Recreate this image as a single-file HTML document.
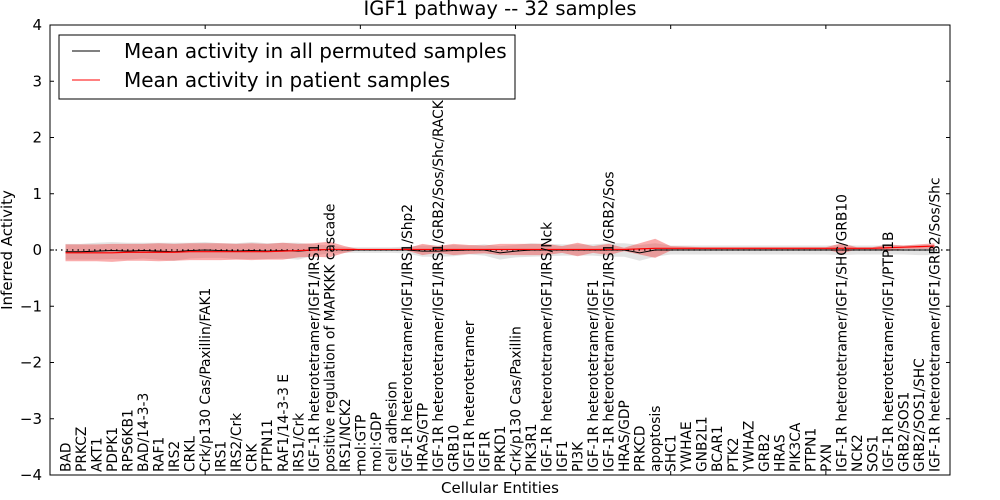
<!DOCTYPE html>
<html><head><meta charset="utf-8"><style>
body{margin:0;background:#fff}
svg text{font-family:"DejaVu Sans","Liberation Sans",sans-serif}
</style></head><body>
<svg id="chart" width="1000" height="500" xmlns="http://www.w3.org/2000/svg" style="position:absolute;left:0;top:0">
<rect width="1000" height="500" fill="#fff"/>
<g id="bands"></g>
<g id="lines"></g>
<g id="xlabels"></g>
<g id="axes"></g>
</svg>
<script>
const categories=["BAD","PRKCZ","AKT1","PDPK1","RPS6KB1","BAD/14-3-3","RAF1","IRS2","CRKL","Crk/p130 Cas/Paxillin/FAK1","IRS1","IRS2/Crk","CRK","PTPN11","RAF1/14-3-3 E","IRS1/Crk","IGF-1R heterotetramer/IGF1/IRS1","positive regulation of MAPKKK cascade","IRS1/NCK2","mol:GTP","mol:GDP","cell adhesion","IGF-1R heterotetramer/IGF1/IRS1/Shp2","HRAS/GTP","IGF-1R heterotetramer/IGF1/IRS1/GRB2/Sos/Shc/RACK","GRB10","IGF1R heterotetramer","IGF1R","PRKD1","Crk/p130 Cas/Paxillin","PIK3R1","IGF-1R heterotetramer/IGF1/IRS/Nck","IGF1","PI3K","IGF-1R heterotetramer/IGF1","IGF-1R heterotetramer/IGF1/IRS1/GRB2/Sos","HRAS/GDP","PRKCD","apoptosis","SHC1","YWHAE","GNB2L1","BCAR1","PTK2","YWHAZ","GRB2","HRAS","PIK3CA","PTPN1","PXN","IGF-1R heterotetramer/IGF1/SHC/GRB10","NCK2","SOS1","IGF-1R heterotetramer/IGF1/PTP1B","GRB2/SOS1","GRB2/SOS1/SHC","IGF-1R heterotetramer/IGF1/GRB2/Sos/Shc"];
const permMean=[-0.03,-0.03,-0.02,-0.01,-0.02,-0.01,-0.02,-0.03,-0.01,0.0,-0.01,-0.02,-0.01,-0.02,-0.01,-0.02,0.0,0.01,0.0,0.0,0.0,0.0,0.0,-0.02,-0.02,-0.01,0.0,0.0,-0.05,-0.02,0.0,0.0,0.0,0.0,0.0,0.0,0.0,-0.05,0.0,0.0,0.0,0.0,0.0,0.0,0.0,0.0,0.0,0.0,0.0,0.0,0.0,0.0,0.0,0.0,0.0,0.0,0.0];
const permSd=[0.14,0.14,0.15,0.15,0.15,0.14,0.15,0.16,0.14,0.14,0.13,0.14,0.15,0.14,0.14,0.15,0.1,0.07,0.05,0.05,0.05,0.05,0.06,0.1,0.1,0.1,0.08,0.1,0.12,0.11,0.12,0.11,0.1,0.1,0.1,0.12,0.12,0.14,0.12,0.08,0.08,0.08,0.08,0.08,0.08,0.08,0.08,0.08,0.08,0.08,0.09,0.08,0.08,0.08,0.08,0.09,0.09];
const patMean=[-0.05,-0.05,-0.05,-0.05,-0.04,-0.04,-0.04,-0.04,-0.03,-0.03,-0.03,-0.03,-0.03,-0.03,-0.02,-0.01,0.0,0.01,0.01,0.01,0.01,0.01,0.01,0.01,0.01,0.01,0.01,0.01,0.01,0.01,0.01,0.01,0.01,0.01,0.01,0.01,0.01,0.02,0.03,0.03,0.03,0.03,0.03,0.03,0.03,0.03,0.03,0.03,0.03,0.03,0.03,0.03,0.03,0.04,0.05,0.06,0.07];
const patSd=[0.15,0.15,0.15,0.16,0.15,0.15,0.16,0.15,0.15,0.15,0.15,0.14,0.15,0.14,0.15,0.12,0.12,0.14,0.06,0.0,0.0,0.0,0.02,0.1,0.06,0.1,0.08,0.07,0.1,0.1,0.1,0.1,0.06,0.12,0.06,0.1,0.03,0.1,0.17,0.04,0.03,0.02,0.02,0.02,0.02,0.02,0.02,0.02,0.02,0.02,0.09,0.02,0.02,0.06,0.03,0.04,0.05];
const yTicks=[-4,-3,-2,-1,0,1,2,3,4];
const xTicks=[10,20,30,40,50];

const L=50,R=950,T=25,B=475,XMIN=0,XMAX=58,YMIN=-4,YMAX=4;
const sx=v=>L+(v-XMIN)/(XMAX-XMIN)*(R-L);
const sy=v=>B-(v-YMIN)/(YMAX-YMIN)*(B-T);
const NS="http://www.w3.org/2000/svg";
function mk(tag,attrs,parent){const e=document.createElementNS(NS,tag);for(const k in attrs)e.setAttribute(k,attrs[k]);parent.appendChild(e);return e;}
const bands=document.getElementById('bands'),lines=document.getElementById('lines'),xl=document.getElementById('xlabels'),ax=document.getElementById('axes');
function bandPath(m,s){let up=m.map((v,i)=>sx(i+1)+','+sy(v+s[i]));let dn=m.map((v,i)=>sx(i+1)+','+sy(v-s[i])).reverse();return 'M'+up.join('L')+'L'+dn.join('L')+'Z';}
function linePath(m){return 'M'+m.map((v,i)=>sx(i+1)+','+sy(v)).join('L');}
let e;
e=mk('path',{d:bandPath(permMean,permSd),fill:'#c8c8c8','fill-opacity':'0.5',stroke:'none'},bands);


e=mk('path',{d:bandPath(patMean,patSd),fill:'#f03030','fill-opacity':'0.4',stroke:'none'},bands);


e=mk('line',{x1:L,x2:R,y1:sy(0),y2:sy(0),stroke:'#000','stroke-width':1.2,'stroke-dasharray':'1.5,4'},lines);


e=mk('path',{d:linePath(permMean),fill:'none',stroke:'#000','stroke-width':1},lines);


e=mk('path',{d:linePath(patMean),fill:'none',stroke:'#f00','stroke-width':1.2},lines);


categories.forEach((c,i)=>{const x=sx(i+1)+5;const t=mk('text',{x:x,y:472,'font-size':'13.8',transform:`rotate(-90 ${x} 472)`},xl);t.textContent=c;

});
e=mk('rect',{x:L,y:T,width:R-L,height:B-T,fill:'none',stroke:'#000','stroke-width':1},ax);


yTicks.forEach(v=>{const y=sy(v);mk('line',{x1:L,x2:L+4,y1:y,y2:y,stroke:'#000'},ax);mk('line',{x1:R-4,x2:R,y1:y,y2:y,stroke:'#000'},ax);
const t=mk('text',{x:L-8,y:y+5,'font-size':'15','text-anchor':'end'},ax);t.textContent=(v<0?'\u2212':'')+Math.abs(v);

});
xTicks.forEach(v=>{const x=sx(v);mk('line',{x1:x,x2:x,y1:B,y2:B-4,stroke:'#000'},ax);mk('line',{x1:x,x2:x,y1:T,y2:T+4,stroke:'#000'},ax);});
</script>
<svg style="position:absolute;left:0;top:0" width="1000" height="500" xmlns="http://www.w3.org/2000/svg">
<text x="500" y="15" font-size="19.5" text-anchor="middle">IGF1 pathway -- 32 samples</text>
<text x="0" y="0" font-size="15" text-anchor="middle" transform="translate(12 250) rotate(-90)">Inferred Activity</text>
<text x="500" y="493" font-size="15" text-anchor="middle">Cellular Entities</text>
<g>
<rect x="59" y="35" width="456" height="64" fill="#fff" stroke="#000" stroke-width="1"/>
<line x1="72" y1="51" x2="100" y2="51" stroke="#000" stroke-width="1"/>
<text x="124" y="58" font-size="20">Mean activity in all permuted samples</text>
<line x1="72" y1="80" x2="100" y2="80" stroke="#f00" stroke-width="1"/>
<text x="124" y="87" font-size="20">Mean activity in patient samples</text>
</g>
</svg>
</body></html>
